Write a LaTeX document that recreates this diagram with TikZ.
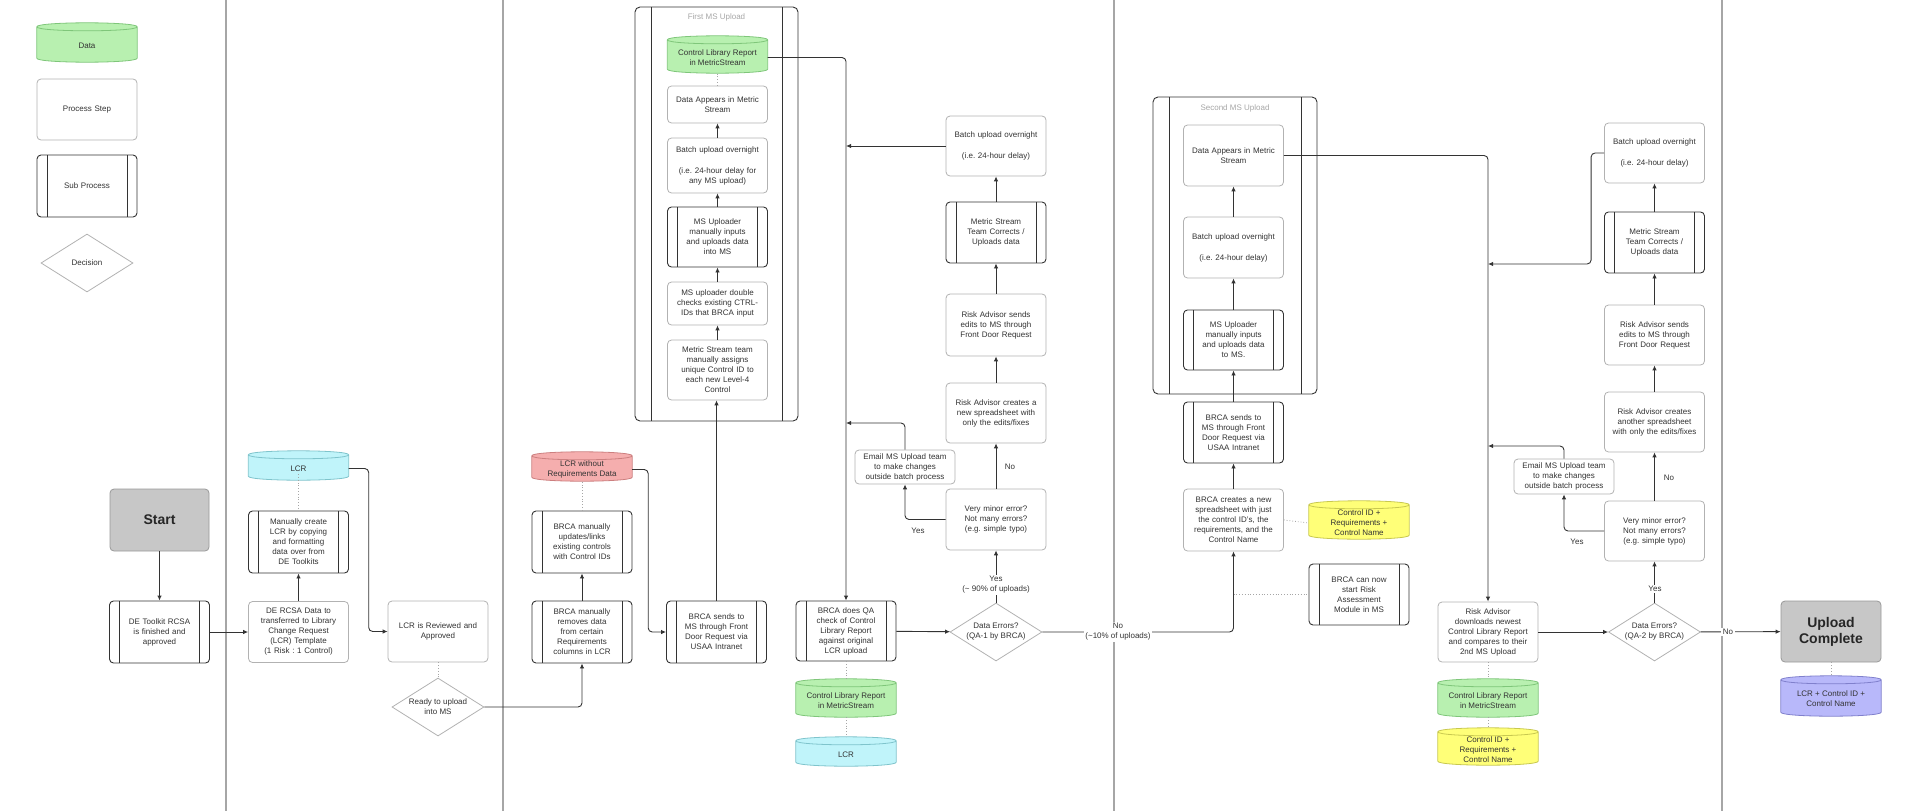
\documentclass[tikz,border=0pt]{standalone}
\usepackage{fontspec}
\setmainfont{Liberation Sans}
\setsansfont{Liberation Sans}
\usetikzlibrary{shapes.geometric,arrows.meta,calc}
\pgfdeclarelayer{bg}
\pgfsetlayers{bg,main}
\frenchspacing
\definecolor{dgreen}{HTML}{B8F0B0}\definecolor{dgreenb}{HTML}{7FC67A}
\definecolor{ccyan}{HTML}{C0F4FA}\definecolor{ccyanb}{HTML}{7FC4CC}
\definecolor{cpink}{HTML}{F5AEAE}\definecolor{cpinkb}{HTML}{CC7F7F}
\definecolor{cyel}{HTML}{FFFF78}\definecolor{cyelb}{HTML}{C8C850}
\definecolor{clav}{HTML}{B8B8FA}\definecolor{clavb}{HTML}{8080CC}
\newcommand\drawcyl[3]{%
\begin{pgfonlayer}{bg}
\path[fill=#2,draw=#3,line width=0.8pt] let \p1=(#1.north west), \p2=(#1.south east) in
 (\x1,\y1+2pt) -- (\x1,\y2+4pt) .. controls (\x1,\y2-1.33pt) and (\x2,\y2-1.33pt) .. (\x2,\y2+4pt)
 -- (\x2,\y1+2pt) .. controls (\x2,\y1+7.33pt) and (\x1,\y1+7.33pt) .. (\x1,\y1+2pt) -- cycle
 (\x1,\y1+2pt) .. controls (\x1,\y1-3.33pt) and (\x2,\y1-3.33pt) .. (\x2,\y1+2pt);
\end{pgfonlayer}}
\begin{document}
\frenchspacing
\begin{tikzpicture}[x=1pt,y=-1pt,
 base/.style={rectangle, align=center, inner sep=0pt, font=\frenchspacing\fontsize{8}{10}\selectfont, text=black!80},
 proc/.style={base, rounded corners=4pt, draw=black!30, line width=0.8pt, fill=white, text width=94pt, minimum width=100pt},
 subp/.style={base, rounded corners=4pt, draw=black!80, line width=0.9pt, fill=white, text width=78pt, minimum width=100pt,
   path picture={\draw[black!80,line width=0.9pt] ([xshift=10pt]path picture bounding box.north west) -- ([xshift=10pt]path picture bounding box.south west) ([xshift=-10pt]path picture bounding box.north east) -- ([xshift=-10pt]path picture bounding box.south east);}},
 cont/.style={rectangle, rounded corners=5pt, draw=black!80, line width=0.9pt,
   path picture={\draw[black!80,line width=0.9pt] ([xshift=16pt]path picture bounding box.north west) -- ([xshift=16pt]path picture bounding box.south west) ([xshift=-16pt]path picture bounding box.north east) -- ([xshift=-16pt]path picture bounding box.south east);}},
 dec/.style={base, diamond, aspect=1.5, draw=black!30, line width=0.8pt, fill=white, minimum width=92pt, minimum height=58pt},
 cyl/.style={base, minimum width=100pt},
 term/.style={base, rounded corners=4pt, draw=black!40, fill=black!22, line width=0.8pt, font=\bfseries\fontsize{14}{16}\selectfont, text=black!85, minimum width=99pt, minimum height=62pt},
 conn/.style={draw=black!80, line width=0.9pt, -{Latex[length=5pt,width=4.5pt]}, rounded corners=4pt},
 dotc/.style={draw=black!35, line width=0.8pt, dotted},
 lbl/.style={base, fill=white, inner sep=1.5pt},
 lane/.style={draw=black!35, line width=2.5pt},
 ttl/.style={base, text=black!35}]
\useasboundingbox (0,0) rectangle (1914,811);
% lanes
\draw[lane] (226,0) -- (226,811);
\draw[lane] (503,0) -- (503,811);
\draw[lane] (1114,0) -- (1114,811);
\draw[lane] (1722,0) -- (1722,811);
% legend
\node[cyl, minimum height=33pt] (legData) at (87,45.5) {Data};\drawcyl{legData}{dgreen}{dgreenb}
\node[proc, minimum height=61pt] (legProc) at (87,109.5) {Process Step};
\node[subp, minimum height=62pt] (legSub) at (87,186) {Sub Process};
\node[dec] (legDec) at (87,263) {Decision};
% lane 1
\node[term] (start) at (159.5,520) {Start};
\node[subp, minimum height=62pt] (detk) at (159.5,632) {DE Toolkit RCSA\\is finished and\\approved};
\node[proc, minimum height=61pt] (dercsa) at (298.5,632) {DE RCSA Data to\\transferred to Library\\Change Request\\(LCR) Template\\(1 Risk : 1 Control)};
\node[subp, minimum height=62pt] (manual) at (298.5,542) {Manually create\\LCR by copying\\and formatting\\data over from\\DE Toolkits};
\node[cyl, minimum height=23pt] (lcr1) at (298.5,468.5) {LCR};\drawcyl{lcr1}{ccyan}{ccyanb}
\node[proc, minimum height=61pt] (reviewed) at (438,631.5) {LCR is Reviewed and\\Approved};
\node[dec] (ready) at (438,707) {Ready to upload\\into MS};
% lane 2
\node[subp, minimum height=62pt] (removes) at (582,632) {BRCA manually\\removes data\\from certain\\Requirements\\columns in LCR};
\node[subp, minimum height=62pt] (links) at (582,542) {BRCA manually\\updates/links\\existing controls\\with Control IDs};
\node[cyl, minimum height=23pt] (lcrwo) at (582,469.5) {LCR without\\Requirements Data};\drawcyl{lcrwo}{cpink}{cpinkb}
\node[subp, minimum height=62pt] (sends1) at (716.5,632) {BRCA sends to\\MS through Front\\Door Request via\\USAA Intranet};
\node[cont, minimum width=163pt, minimum height=414pt] (cont1) at (716.5,214) {};
\node[ttl] (title1) at (716.5,17) {First MS Upload};
\node[cyl, minimum height=31pt] (clr1) at (717.5,57.5) {Control Library Report\\in MetricStream};\drawcyl{clr1}{dgreen}{dgreenb}
\node[proc, minimum height=37pt] (da1) at (717.5,104.5) {Data Appears in Metric\\Stream};
\node[proc, minimum height=55pt] (bu1) at (717.5,165.5) {Batch upload overnight\\[11pt](i.e. 24-hour delay for\\any MS upload)};
\node[subp, minimum height=60pt] (mu1) at (717.5,237) {MS Uploader\\manually inputs\\and uploads data\\into MS};
\node[proc, minimum height=43pt] (dc1) at (717.5,303.5) {MS uploader double\\checks existing CTRL-\\IDs that BRCA input};
\node[proc, minimum height=60pt] (mt1) at (717.5,370) {Metric Stream team\\manually assigns\\unique Control ID to\\each new Level-4\\Control};
% middle
\node[proc, minimum height=60pt] (bu2) at (996,146) {Batch upload overnight\\[11pt](i.e. 24-hour delay)};
\node[subp, minimum height=61pt] (mt2) at (996,232.5) {Metric Stream\\Team Corrects /\\Uploads data};
\node[proc, minimum height=62pt] (rs2) at (996,325) {Risk Advisor sends\\edits to MS through\\Front Door Request};
\node[proc, minimum height=60pt] (rc2) at (996,413) {Risk Advisor creates a\\new spreadsheet with\\only the edits/fixes};
\node[proc, minimum height=61pt] (vm2) at (996,519.5) {Very minor error?\\Not many errors?\\(e.g. simple typo)};
\node[proc, minimum height=34pt] (em2) at (905,467) {Email MS Upload team\\to make changes\\outside batch process};
\node[subp, minimum height=60pt] (qa) at (846,631) {BRCA does QA\\check of Control\\Library Report\\against original\\LCR upload};
\node[dec] (de1) at (996,632) {Data Errors?\\(QA-1 by BRCA)};
\node[cyl, minimum height=32pt] (clr2) at (846,701) {Control Library Report\\in MetricStream};\drawcyl{clr2}{dgreen}{dgreenb}
\node[cyl, minimum height=23pt] (lcr2) at (846,754.5) {LCR};\drawcyl{lcr2}{ccyan}{ccyanb}
% second upload
\node[cont, minimum width=164pt, minimum height=297pt] (cont2) at (1235,245.5) {};
\node[ttl] (title2) at (1235,108) {Second MS Upload};
\node[proc, minimum height=61pt] (da3) at (1233.5,155.5) {Data Appears in Metric\\Stream};
\node[proc, minimum height=61pt] (bu3) at (1233.5,247.5) {Batch upload overnight\\[11pt](i.e. 24-hour delay)};
\node[subp, minimum height=60pt] (mu3) at (1233.5,340) {MS Uploader\\manually inputs\\and uploads data\\to MS.};
\node[subp, minimum height=61pt] (bs3) at (1233.5,432.5) {BRCA sends to\\MS through Front\\Door Request via\\USAA Intranet};
\node[proc, minimum height=62pt] (bc) at (1233.5,520) {BRCA creates a new\\spreadsheet with just\\the control ID's, the\\requirements, and the\\Control Name};
\node[cyl, minimum height=32pt] (cida) at (1359,523) {Control ID +\\Requirements +\\Control Name};\drawcyl{cida}{cyel}{cyelb}
\node[subp, minimum height=61pt] (ram) at (1359,594.5) {BRCA can now\\start Risk\\Assessment\\Module in MS};
% right
\node[proc, minimum height=60pt] (bu4) at (1654.5,153) {Batch upload overnight\\[11pt](i.e. 24-hour delay)};
\node[subp, minimum height=61pt] (mt4) at (1654.5,242.5) {Metric Stream\\Team Corrects /\\Uploads data};
\node[proc, minimum height=60pt] (rs4) at (1654.5,335) {Risk Advisor sends\\edits to MS through\\Front Door Request};
\node[proc, minimum height=60pt] (rc4) at (1654.5,422) {Risk Advisor creates\\another spreadsheet\\with only the edits/fixes};
\node[proc, minimum height=60pt] (vm4) at (1654.5,531) {Very minor error?\\Not many errors?\\(e.g. simple typo)};
\node[proc, minimum height=35pt] (em4) at (1564,476.5) {Email MS Upload team\\to make changes\\outside batch process};
\node[proc, minimum height=60pt] (rd) at (1488,632) {Risk Advisor\\downloads newest\\Control Library Report\\and compares to their\\2nd MS Upload};
\node[dec] (de2) at (1654.5,632) {Data Errors?\\(QA-2 by BRCA)};
\node[cyl, minimum height=32pt] (clr3) at (1488,701) {Control Library Report\\in MetricStream};\drawcyl{clr3}{dgreen}{dgreenb}
\node[cyl, minimum height=31pt] (cidb) at (1488,749.5) {Control ID +\\Requirements +\\Control Name};\drawcyl{cidb}{cyel}{cyelb}
\node[term, minimum height=61pt, minimum width=100pt] (uc) at (1831,631.5) {Upload\\Complete};
\node[cyl, minimum height=34pt] (lcrf) at (1831,699) {LCR + Control ID +\\Control Name};\drawcyl{lcrf}{clav}{clavb}
% junction coordinates
\coordinate (j1) at (846,423);
\coordinate (j3) at (1488,264);
\coordinate (j4) at (1488,446);
% connectors lane 1
\draw[conn] (start) -- (detk);
\draw[conn] (detk) -- (dercsa);
\draw[conn] (dercsa) -- (manual);
\draw[dotc] ([yshift=6pt]lcr1.south) -- (manual.north);
\draw[conn] (lcr1.east) -- ++(20,0) |- (reviewed.west);
\draw[dotc] (reviewed.south) -- (ready.north);
\draw[conn] (ready.east) -| (removes.south);
% lane 2
\draw[conn] (removes) -- (links);
\draw[dotc] (links.north) -- (lcrwo.south);
\draw[conn] (lcrwo.east) -- ++(16,0) |- (sends1.west);
\draw[conn] (sends1.north) -- (sends1.north |- mt1.south);
\draw[conn] (mt1) -- (dc1);
\draw[conn] (dc1) -- (mu1);
\draw[conn] (mu1) -- (bu1);
\draw[conn] (bu1) -- (da1);
\draw[dotc] (da1.north) -- (clr1.south);
\draw[conn] (clr1.east) -| (qa.north);
% middle
\draw[conn] (bu2.west) -- (bu2.west -| qa.north);
\draw[conn] (mt2) -- (bu2);
\draw[conn] (rs2) -- (mt2);
\draw[conn] (rc2) -- (rs2);
\draw[conn] (vm2) -- (rc2);
\draw[conn] (vm2.west) -| (em2.south);
\draw[conn] (em2.north) |- (j1);
\draw[conn] (qa) -- (de1);
\draw[conn] (de1.north) -- (vm2.south);
\draw[dotc] (qa.south) -- ([yshift=6pt]clr2.north);
\draw[dotc] (clr2.south) -- ([yshift=6pt]lcr2.north);
\draw[conn] (de1.east) -| (bc.south);
% second
\draw[conn] (bc) -- (bs3);
\draw[conn] (bs3) -- (mu3);
\draw[conn] (mu3) -- (bu3);
\draw[conn] (bu3) -- (da3);
\draw[dotc] (bc.east) -- (cida.west);
\draw[dotc] (bc.south |- ram.west) -- (ram.west);
\draw[conn] (da3.east) -| (rd.north);
% right
\draw[conn] (bu4.west) -- ++(-13,0) |- (j3);
\draw[conn] (mt4) -- (bu4);
\draw[conn] (rs4) -- (mt4);
\draw[conn] (rc4) -- (rs4);
\draw[conn] (vm4) -- (rc4);
\draw[conn] (vm4.west) -| (em4.south);
\draw[conn] (em4.north) |- (j4);
\draw[conn] (rd) -- (de2);
\draw[conn] (de2.north) -- (vm4.south);
\draw[conn] (de2) -- (uc);
\draw[dotc] (rd.south) -- ([yshift=6pt]clr3.north);
\draw[dotc] (clr3.south) -- ([yshift=6pt]cidb.north);
\draw[dotc] (uc.south) -- ([yshift=6pt]lcrf.north);
% labels
\node[lbl] (l1) at (1010,467) {No};
\node[lbl] (l2) at (918,531) {Yes};
\node[lbl] (l3) at (996,585) {Yes\\(\textasciitilde{} 90\% of uploads)};
\node[lbl] (l4) at (1118,632) {No\\(\textasciitilde10\% of uploads)};
\node[lbl] (l5) at (1669,478) {No};
\node[lbl] (l6) at (1577,542) {Yes};
\node[lbl] (l7) at (1655,589) {Yes};
\node[lbl] (l8) at (1728,632) {No};
\end{tikzpicture}
\end{document}
